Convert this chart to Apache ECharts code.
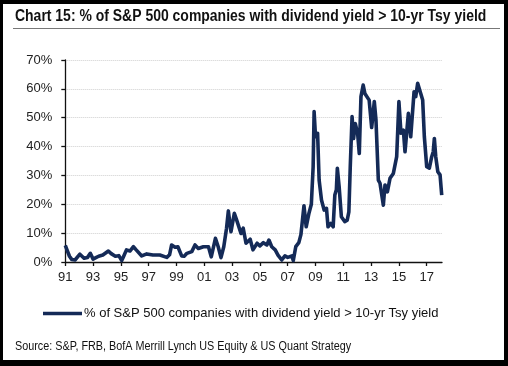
<!DOCTYPE html>
<html><head><meta charset="utf-8">
<script src="https://cdn.jsdelivr.net/npm/echarts@6/dist/echarts.min.js"></script>
<style>
html,body{margin:0;padding:0;background:#000;width:508px;height:366px;overflow:hidden;}
#c{position:absolute;left:3px;top:4px;width:501px;height:356px;background:#fff;}
</style></head><body><div id="c"></div>
<script>
const titleText = 'Chart 15: % of S&P 500 companies with dividend yield > 10-yr Tsy yield';
const seriesName = '% of S&P 500 companies with dividend yield > 10-yr Tsy yield';
const sourceText = 'Source: S&P, FRB, BofA Merrill Lynch US Equity & US Quant Strategy';
const startYear = 1991;
const tickYears = [1991,1993,1995,1997,1999,2001,2003,2005,2007,2009,2011,2013,2015,2017];
const yTicks = [0,10,20,30,40,50,60,70];
const years = [
 1991.0,1991.1,1991.3,1991.46,1991.7,1992.05,1992.35,1992.6,1992.8,1993.0,1993.2,1993.4,1993.7,
 1994.1,1994.3,1994.6,1994.85,1995.06,1995.2,1995.4,1995.65,1995.9,1996.1,1996.5,1996.86,1997.3,
 1997.8,1998.3,1998.5,1998.65,1998.9,1999.1,1999.37,1999.55,1999.75,2000.1,2000.33,2000.57,2000.93,
 2001.3,2001.5,2001.8,2002.0,2002.2,2002.4,2002.6,2002.73,2002.92,2003.16,2003.33,2003.45,2003.64,
 2003.8,2004.0,2004.3,2004.5,2004.8,2005.0,2005.25,2005.5,2005.65,2005.85,2006.1,2006.3,2006.57,
 2006.8,2007.0,2007.3,2007.4,2007.58,2007.8,2007.95,2008.05,2008.17,2008.33,2008.53,2008.7,2008.83,
 2008.9,2009.0,2009.15,2009.26,2009.43,2009.62,2009.79,2009.9,2010.1,2010.27,2010.39,2010.5,2010.57,
 2010.7,2010.86,2011.1,2011.28,2011.4,2011.5,2011.63,2011.74,2011.86,2012.03,2012.15,2012.27,2012.43,
 2012.55,2012.86,2013.04,2013.23,2013.35,2013.52,2013.64,2013.76,2013.88,2014.0,2014.17,2014.36,
 2014.6,2014.84,2015.0,2015.15,2015.32,2015.44,2015.68,2015.85,2015.92,2016.09,2016.21,2016.35,
 2016.47,2016.57,2016.71,2016.83,2017.0,2017.19,2017.36,2017.47,2017.55,2017.65,2017.8,2017.96,2018.08
];
const values = [
 5.8,4.5,2.0,0.9,0.7,2.7,1.3,1.6,3.0,1.0,1.5,2.0,2.4,
 3.8,2.9,2.0,2.2,0.5,2.0,4.2,3.8,5.3,4.2,2.1,2.8,2.4,
 2.4,1.6,2.5,5.9,5.1,5.3,2.1,2.0,3.0,3.6,5.9,4.7,5.3,
 5.3,1.8,8.2,5.3,1.5,5.3,11.7,17.7,10.5,16.9,14.5,15.0,9.9,
 11.7,6.5,7.9,4.2,6.5,5.6,6.7,5.9,7.6,5.3,4.2,2.4,0.7,
 2.1,1.6,2.1,0.5,5.3,6.7,9.5,14.0,19.5,12.2,16.9,20.0,33.0,
 52.1,43.4,44.6,28.4,21.5,18.0,18.6,12.2,13.4,12.2,23.2,25.0,32.5,
 26.1,15.7,14.0,14.5,17.4,33.0,50.4,42.8,48.0,44.6,37.6,57.3,61.3,
 58.4,56.1,46.6,55.6,49.2,28.4,27.3,27.8,19.7,26.7,24.3,29.0,
 30.7,36.5,55.6,44.6,45.7,38.2,51.5,43.4,43.4,59.0,57.3,61.9,
 62.5,58.4,56.1,43.4,33.0,32.5,36.5,38.2,42.8,36.5,31.3,30.2,23.2
];
const data = years.map((y,i)=>[y-startYear, values[i]]);
const tickOffsets = tickYears.map(y=>y-startYear);
const chart = echarts.init(document.getElementById('c'), null, {renderer:'canvas'});
const FONT = '"Liberation Sans", Arial, sans-serif';
chart.setOption({
  backgroundColor:'#fff',
  animation:false,
  grid:{left:62.3,right:62,top:56,bottom:98},
  legend:{
    data:[{name:seriesName, icon:'rect'}],
    left:40, top:303, padding:0, itemWidth:39, itemHeight:3.6, itemGap:0,
    textStyle:{fontFamily:FONT,fontSize:13,color:'#111',padding:[0,0,0,-3]}
  },
  xAxis:{
    type:'value', min:0, max:27.1,
    axisLine:{show:true,onZero:false,lineStyle:{color:'#111',width:1.3}},
    axisTick:{show:true,length:4,lineStyle:{color:'#111',width:1.3},customValues:tickOffsets},
    axisLabel:{customValues:tickOffsets,fontFamily:FONT,fontSize:13,color:'#222',margin:9,
      formatter:v=>String((startYear+Math.round(v))%100).padStart(2,'0')},
    splitLine:{show:false}
  },
  yAxis:{
    type:'value', min:0, max:70, interval:10,
    axisLine:{show:true,lineStyle:{color:'#111',width:1.3}},
    axisTick:{show:true,length:4,lineStyle:{color:'#111',width:1.3}},
    axisLabel:{fontFamily:FONT,fontSize:13,color:'#222',margin:13,formatter:'{value}%'},
    splitLine:{show:true,lineStyle:{color:'#cfcfcf',type:'dotted',width:1}}
  },
  series:[{
    name:seriesName, type:'line', data:data, showSymbol:false, symbol:'none',
    lineStyle:{color:'#142a57',width:3.6,join:'round'}, itemStyle:{color:'#142a57'}
  }],
  graphic:[
    {type:'text', x:12, y:12.5, scaleX:0.873, scaleY:1,
     style:{text:titleText, font:'bold 16px '+FONT, fill:'#111', verticalAlign:'middle', textVerticalAlign:'middle'}},
    {type:'line', shape:{x1:10,y1:24.5,x2:497,y2:24.5}, style:{stroke:'#777',lineWidth:1}},
    {type:'text', x:12, y:343, scaleX:0.9,
     style:{text:sourceText, font:'12px '+FONT, fill:'#111', verticalAlign:'middle', textVerticalAlign:'middle'}}
  ]
});
</script></body></html>
